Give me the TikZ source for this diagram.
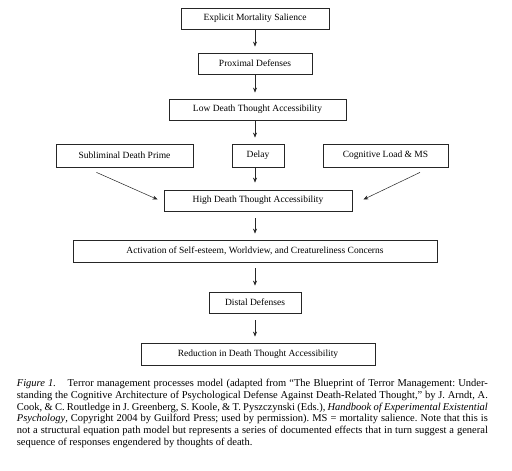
\documentclass[tikz,border=0pt]{standalone}
\usepackage{fontspec}
\setmainfont{Liberation Serif}
\usetikzlibrary{arrows.meta}
\begin{document}
\begin{tikzpicture}[x=1pt,y=-1pt,
  box/.style={draw=black!85,line width=0.8pt,inner sep=0pt,anchor=center,font=\fontsize{9.5}{11}\selectfont},
  arr/.style={draw=black!85,line width=0.6pt,-{Stealth[length=5pt,width=4pt]}}]
\useasboundingbox[fill=white] (0,0) rectangle (512,471);
\node[box,minimum width=148pt,minimum height=21pt] (b1) at (255,18.5) {Explicit Mortality Salience};
\node[box,minimum width=114pt,minimum height=21pt] (b2) at (255,63.5) {Proximal Defenses};
\node[box,minimum width=177pt,minimum height=21pt] (b3) at (257.5,109.5) {Low Death Thought Accessibility};
\node[box,minimum width=137pt,minimum height=23pt] (sub) at (124.5,155.5) {Subliminal Death Prime};
\node[box,minimum width=52pt,minimum height=23pt] (delay) at (258,155.5) {Delay};
\node[box,minimum width=125pt,minimum height=23pt] (cog) at (385.5,155.5) {Cognitive Load \& MS};
\node[box,minimum width=188pt,minimum height=21pt] (high) at (258,200.5) {High Death Thought Accessibility};
\node[box,minimum width=364pt,minimum height=22pt] (act) at (255,251) {Activation of Self-esteem, Worldview, and Creatureliness Concerns};
\node[box,minimum width=92pt,minimum height=21pt] (distal) at (255,302.5) {Distal Defenses};
\node[box,minimum width=234pt,minimum height=22pt] (red) at (258,354) {Reduction in Death Thought Accessibility};
\coordinate (subA) at ([xshift=-28pt,yshift=-5pt]sub.south);
\coordinate (subB) at ([xshift=-6pt,yshift=1pt]high.west);
\coordinate (cogA) at ([xshift=34.5pt,yshift=-5pt]cog.south);
\coordinate (cogB) at ([xshift=11pt,yshift=1pt]high.east);
\draw[arr,shorten >=6pt] (b1.south) -- (b1.south |- b2.north);
\draw[arr,shorten >=6pt] (b2.south) -- (b2.south |- b3.north);
\draw[arr,shorten >=6pt] (b3.south -| b1.south) -- (delay.north -| b1.south);
\draw[arr,shorten >=7pt] (delay.south -| b1.south) -- (high.north -| b1.south);
\draw[arr,shorten <=7pt,shorten >=6pt] (high.south -| b1.south) -- (act.north -| b1.south);
\draw[arr,shorten <=6pt,shorten >=6pt] (act.south -| b1.south) -- (distal.north -| b1.south);
\draw[arr,shorten <=7pt,shorten >=6pt] (distal.south -| b1.south) -- (red.north -| b1.south);
\draw[arr,line width=0.5pt] (subA) -- (subB);
\draw[arr,line width=0.5pt] (cogA) -- (cogB);
\node[anchor=north west,inner sep=0pt,text width=471pt,align=justify,
  font=\fontsize{10.5}{11.8}\selectfont\frenchspacing] (cap) at (16.7,379) {%
\textit{Figure 1.}\hspace{1.1em}Terror management processes model (adapted from “The Blueprint of Terror Management: Under-\linebreak
standing the Cognitive Architecture of Psychological Defense Against Death-Related Thought,” by J. Arndt, A.\linebreak
Cook, \& C. Routledge in J. Greenberg, S. Koole, \& T. Pyszczynski (Eds.), \textit{Handbook of Experimental Existential}\linebreak
\textit{Psychology}, Copyright 2004 by Guilford Press; used by permission). MS = mortality salience. Note that this is\linebreak
not a structural equation path model but represents a series of documented effects that in turn suggest a general\linebreak
sequence of responses engendered by thoughts of death.};
\end{tikzpicture}
\end{document}
